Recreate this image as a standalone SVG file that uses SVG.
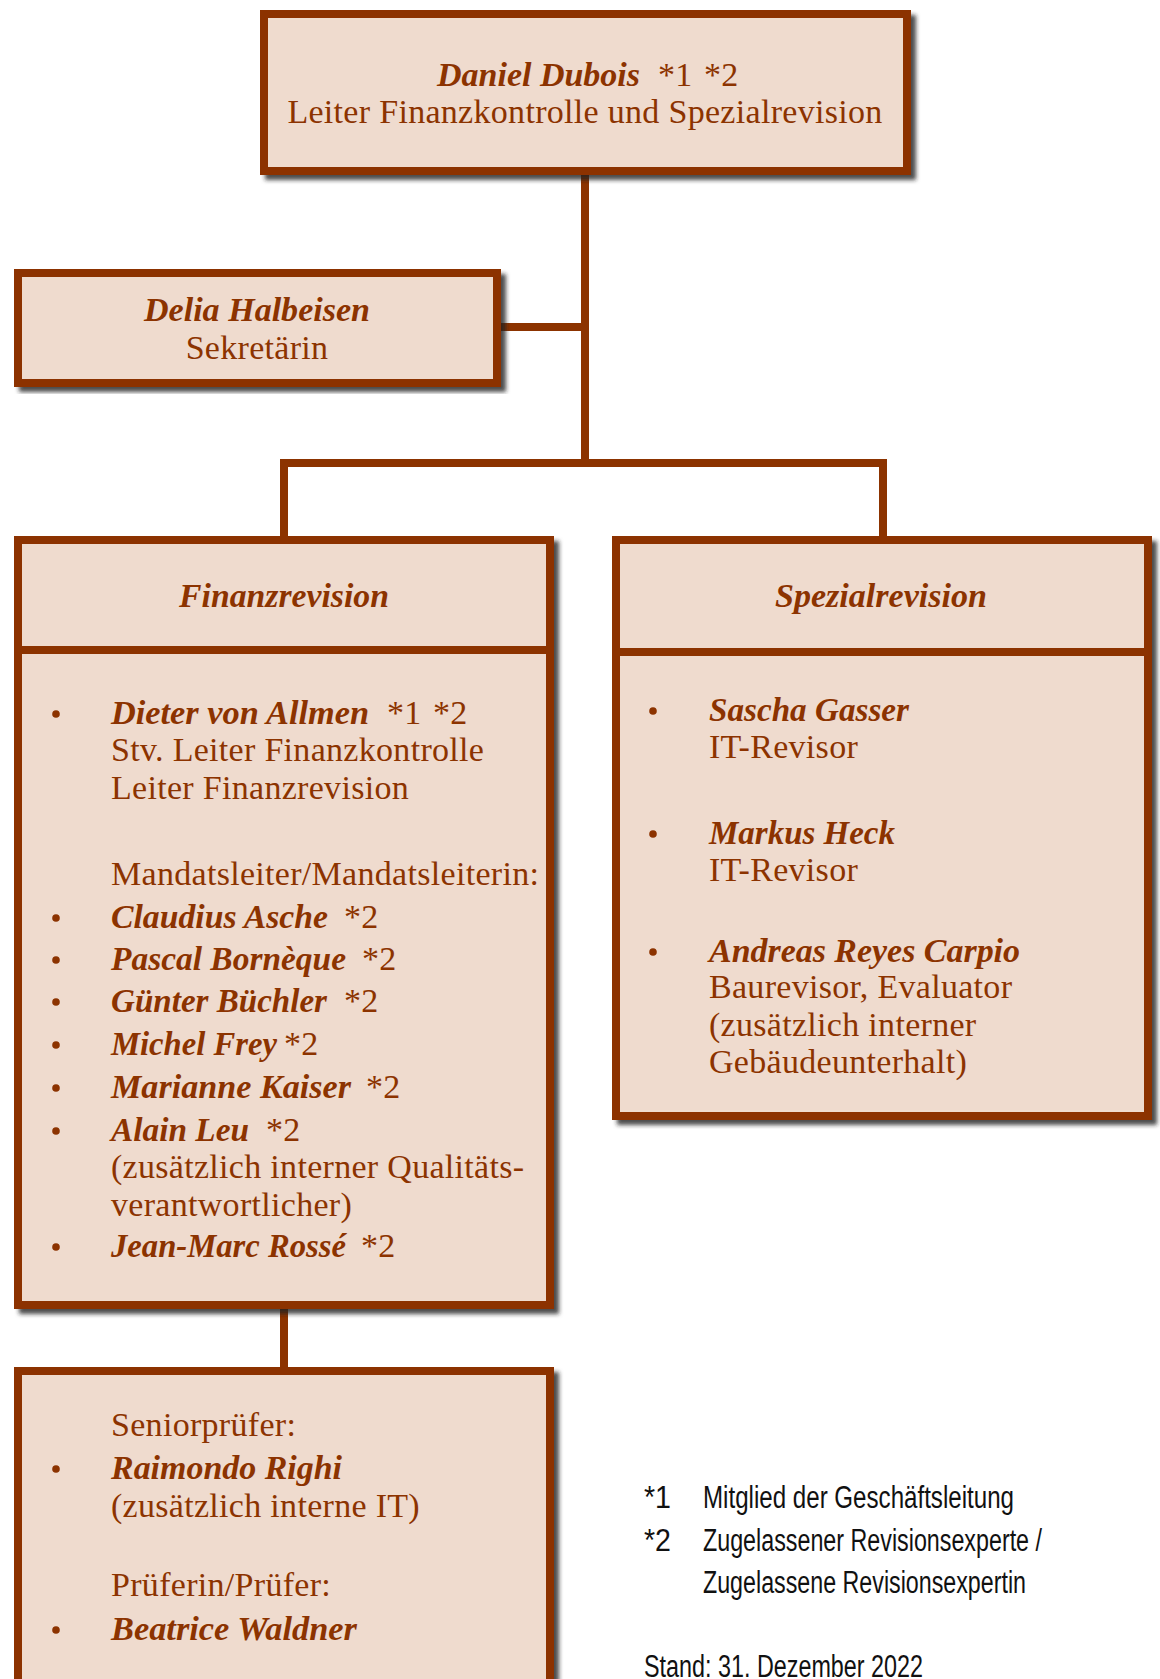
<svg xmlns="http://www.w3.org/2000/svg" width="1160" height="1679" viewBox="0 0 1160 1679">
<style>
.box{fill:#EFDBCE;stroke:#8C3300;stroke-width:8;filter:url(#sh)}
.div{stroke:#8C3300;stroke-width:8}
.con{stroke:#8C3300;stroke-width:8;fill:none}
.n{font-family:"Liberation Serif",serif;font-weight:bold;font-style:italic;font-size:34px;fill:#8C3300}
.r{font-family:"Liberation Serif",serif;font-size:34px;letter-spacing:0.3px;fill:#8C3300}
.c{text-anchor:middle}
.b{fill:#8C3300}
.lg{font-family:"Liberation Sans",sans-serif;font-size:31px;fill:#111}
</style>
<defs>
<filter id="sh" x="-5%" y="-5%" width="115%" height="115%">
<feDropShadow dx="5" dy="5" stdDeviation="2" flood-color="#222" flood-opacity="0.8"/>
</filter>
</defs>
<rect width="1160" height="1679" fill="#fff"/>
<g id="connectors">
<path class="con" d="M585,175V463M501,327H585M284,536V463H883V536M284,1309V1367"/>
</g>
<g id="leiter">
<rect class="box" x="264" y="14" width="643" height="157"/>
<text class="n" x="437" y="86" textLength="203" lengthAdjust="spacingAndGlyphs">Daniel Dubois</text>
<text class="r" x="658" y="86">*1</text>
<text class="r" x="704" y="86">*2</text>
<text class="r c" x="585" y="123">Leiter Finanzkontrolle und Spezialrevision</text>
</g>
<g id="sekretariat">
<rect class="box" x="18" y="273" width="479" height="110"/>
<text class="n" x="144" y="321" textLength="226" lengthAdjust="spacingAndGlyphs">Delia Halbeisen</text>
<text class="r c" x="257" y="359">Sekretärin</text>
</g>
<g id="finanzrevision">
<rect class="box" x="18" y="540" width="532" height="765"/>
<line class="div" x1="18" y1="650" x2="550" y2="650"/>
<text class="n" x="179" y="607" textLength="210" lengthAdjust="spacingAndGlyphs">Finanzrevision</text>
<circle class="b" cx="56" cy="714" r="3.8"/>
<text class="n" x="111" y="724" textLength="258" lengthAdjust="spacingAndGlyphs">Dieter von Allmen</text>
<text class="r" x="387" y="724">*1</text>
<text class="r" x="433" y="724">*2</text>
<text class="r" x="111" y="761">Stv. Leiter Finanzkontrolle</text>
<text class="r" x="111" y="799">Leiter Finanzrevision</text>
<text class="r" x="111" y="885">Mandatsleiter/Mandatsleiterin:</text>
<circle class="b" cx="56" cy="918" r="3.8"/>
<text class="n" x="111" y="928" textLength="217" lengthAdjust="spacingAndGlyphs">Claudius Asche</text>
<text class="r" x="344" y="928">*2</text>
<circle class="b" cx="56" cy="960" r="3.8"/>
<text class="n" x="111" y="970" textLength="235" lengthAdjust="spacingAndGlyphs">Pascal Bornèque</text>
<text class="r" x="362" y="970">*2</text>
<circle class="b" cx="56" cy="1002" r="3.8"/>
<text class="n" x="111" y="1012" textLength="216" lengthAdjust="spacingAndGlyphs">Günter Büchler</text>
<text class="r" x="344" y="1012">*2</text>
<circle class="b" cx="56" cy="1045" r="3.8"/>
<text class="n" x="111" y="1055" textLength="166" lengthAdjust="spacingAndGlyphs">Michel Frey</text>
<text class="r" x="284" y="1055">*2</text>
<circle class="b" cx="56" cy="1088" r="3.8"/>
<text class="n" x="111" y="1098" textLength="240" lengthAdjust="spacingAndGlyphs">Marianne Kaiser</text>
<text class="r" x="366" y="1098">*2</text>
<circle class="b" cx="56" cy="1131" r="3.8"/>
<text class="n" x="111" y="1141" textLength="138" lengthAdjust="spacingAndGlyphs">Alain Leu</text>
<text class="r" x="266" y="1141">*2</text>
<text class="r" x="111" y="1178">(zusätzlich interner Qualitäts-</text>
<text class="r" x="111" y="1216">verantwortlicher)</text>
<circle class="b" cx="56" cy="1247" r="3.8"/>
<text class="n" x="111" y="1257" textLength="235" lengthAdjust="spacingAndGlyphs">Jean-Marc Rossé</text>
<text class="r" x="361" y="1257">*2</text>
</g>
<g id="spezialrevision">
<rect class="box" x="616" y="540" width="532" height="576"/>
<line class="div" x1="616" y1="652" x2="1148" y2="652"/>
<text class="n" x="775" y="607" textLength="212" lengthAdjust="spacingAndGlyphs">Spezialrevision</text>
<circle class="b" cx="653" cy="711" r="3.8"/>
<text class="n" x="709" y="721" textLength="200" lengthAdjust="spacingAndGlyphs">Sascha Gasser</text>
<text class="r" x="709" y="758">IT-Revisor</text>
<circle class="b" cx="653" cy="834" r="3.8"/>
<text class="n" x="709" y="844" textLength="186" lengthAdjust="spacingAndGlyphs">Markus Heck</text>
<text class="r" x="709" y="881">IT-Revisor</text>
<circle class="b" cx="653" cy="952" r="3.8"/>
<text class="n" x="709" y="962" textLength="311" lengthAdjust="spacingAndGlyphs">Andreas Reyes Carpio</text>
<text class="r" x="709" y="998">Baurevisor, Evaluator</text>
<text class="r" x="709" y="1036">(zusätzlich interner</text>
<text class="r" x="709" y="1073">Gebäudeunterhalt)</text>
</g>
<g id="pruefer">
<rect class="box" x="18" y="1371" width="532" height="400"/>
<text class="r" x="111" y="1436">Seniorprüfer:</text>
<circle class="b" cx="56" cy="1469" r="3.8"/>
<text class="n" x="111" y="1479" textLength="231" lengthAdjust="spacingAndGlyphs">Raimondo Righi</text>
<text class="r" x="111" y="1517">(zusätzlich interne IT)</text>
<text class="r" x="111" y="1596">Prüferin/Prüfer:</text>
<circle class="b" cx="56" cy="1630" r="3.8"/>
<text class="n" x="111" y="1640" textLength="246" lengthAdjust="spacingAndGlyphs">Beatrice Waldner</text>
</g>
<g id="legende">
<text class="lg" x="644" y="1508" textLength="27" lengthAdjust="spacingAndGlyphs">*1</text>
<text class="lg" x="703" y="1508" textLength="311" lengthAdjust="spacingAndGlyphs">Mitglied der Geschäftsleitung</text>
<text class="lg" x="644" y="1551" textLength="27" lengthAdjust="spacingAndGlyphs">*2</text>
<text class="lg" x="703" y="1551" textLength="339" lengthAdjust="spacingAndGlyphs">Zugelassener Revisionsexperte /</text>
<text class="lg" x="703" y="1593" textLength="323" lengthAdjust="spacingAndGlyphs">Zugelassene Revisionsexpertin</text>
<text class="lg" x="644" y="1677" textLength="279" lengthAdjust="spacingAndGlyphs">Stand: 31. Dezember 2022</text>
</g>
</svg>
